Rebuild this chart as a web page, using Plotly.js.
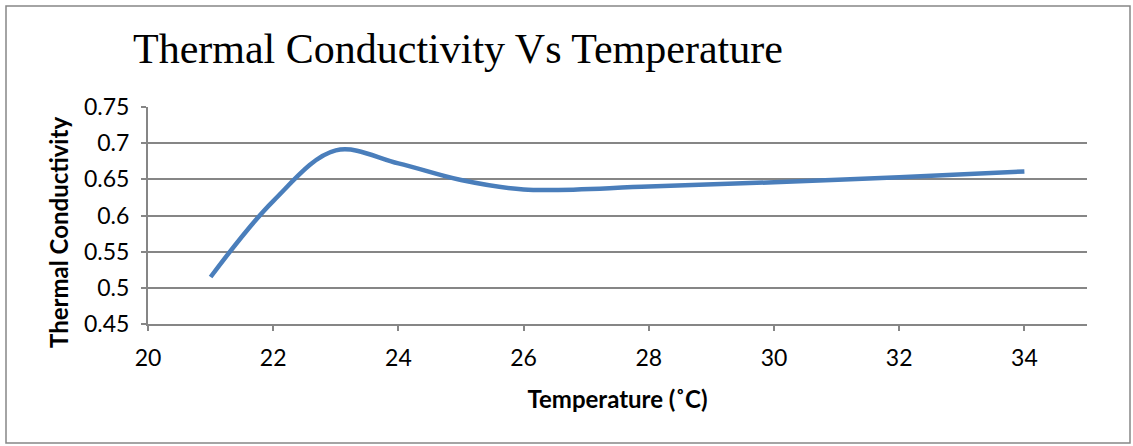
<!DOCTYPE html>
<html>
<head>
<meta charset="utf-8">
<script src="https://cdn.plot.ly/plotly-3.0.1.min.js"></script>
<style>
  html, body { margin: 0; padding: 0; background: #ffffff; }
  #chart { width: 1133px; height: 446px; }
</style>
</head>
<body>
<div id="chart"></div>
<script>
// Measured thermal conductivity at each temperature (°C)
const temperature = [21, 22, 23, 24, 25, 26, 28, 30, 32, 34];
const conductivity = [0.515, 0.62, 0.69, 0.672, 0.649, 0.636, 0.64, 0.646, 0.653, 0.661];

const xTicks = [20, 22, 24, 26, 28, 30, 32, 34];
const yTicks = [0.45, 0.5, 0.55, 0.6, 0.65, 0.7, 0.75];

const W = 1133, H = 446;
const margin = { l: 148, r: 46, t: 107, b: 122, pad: 0 };
const pw = W - margin.l - margin.r;
const ph = H - margin.t - margin.b;
// pixel -> paper units
const fx = v => (v - margin.l) / pw;
const fy = v => 1 - (v - margin.t) / ph;

const trace = {
  x: temperature,
  y: conductivity,
  type: 'scatter',
  mode: 'lines',
  line: { color: '#4a7ebb', width: 4.5, shape: 'spline', smoothing: 1 },
  hoverinfo: 'x+y'
};

const axisFont = { family: 'Lato, "Liberation Sans", sans-serif', size: 23, color: '#000000' };
const titleFont = { family: 'Lato, "Liberation Sans", sans-serif', size: 24, color: '#000000', weight: 'bold' };

const layout = {
  width: W,
  height: H,
  margin: margin,
  paper_bgcolor: '#ffffff',
  plot_bgcolor: '#ffffff',
  showlegend: false,
  title: {
    text: 'Thermal Conductivity Vs Temperature',
    font: { family: '"Liberation Serif", "Times New Roman", serif', size: 42, color: '#000000' },
    xref: 'container', x: 133 / W, xanchor: 'left',
    yref: 'container', y: 1 - 48 / H, yanchor: 'middle'
  },
  xaxis: {
    range: [20, 35],
    tickvals: xTicks,
    ticktext: xTicks.map(String),
    ticks: 'outside', ticklen: 5, tickwidth: 2, tickcolor: '#868686',
    showline: true, linecolor: '#868686', linewidth: 2,
    showgrid: false, zeroline: false,
    tickfont: axisFont,
    ticklabelstandoff: 7,
    title: { text: 'Temperature (˚C)', font: titleFont, standoff: 22 }
  },
  yaxis: {
    range: [0.45, 0.75],
    tickvals: yTicks,
    ticktext: yTicks.map(String),
    ticks: 'outside', ticklen: 5, tickwidth: 2, tickcolor: '#868686',
    showline: true, linecolor: '#868686', linewidth: 2,
    showgrid: true, gridcolor: '#868686', gridwidth: 2,
    zeroline: false,
    tickfont: axisFont,
    ticklabelstandoff: 7
  },
  // vertical axis title sits a little below the plot centre
  annotations: [{
    text: 'Thermal Conductivity',
    font: titleFont,
    textangle: -90,
    xref: 'paper', yref: 'paper',
    x: fx(58), y: fy(233),
    xanchor: 'center', yanchor: 'middle',
    showarrow: false
  }],
  shapes: [{
    type: 'rect', xref: 'paper', yref: 'paper', layer: 'below',
    x0: fx(6), x1: fx(1130), y0: fy(443), y1: fy(6),
    line: { color: '#868686', width: 1.5 },
    fillcolor: 'rgba(0,0,0,0)'
  }]
};

Plotly.newPlot('chart', [trace], layout, { displayModeBar: false, staticPlot: true });
</script>
</body>
</html>
